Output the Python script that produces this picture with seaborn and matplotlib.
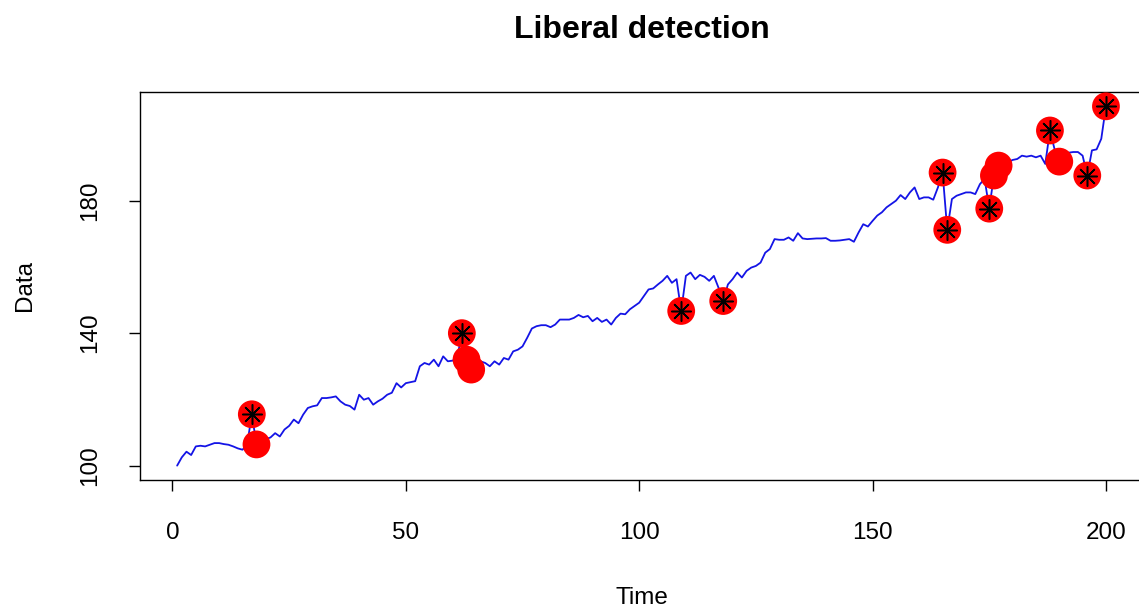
import numpy as np
import pandas as pd
import matplotlib
matplotlib.use("Agg")
import matplotlib.pyplot as plt
import seaborn as sns

# ---- data ----
values = [
    100.0, 102.5, 104.2, 103.2, 105.8, 106.0, 105.8, 106.3, 106.8, 106.8,
    106.5, 106.3, 105.8, 105.2, 104.8, 106.3, 115.5, 106.4, 107.0, 108.0,
    108.5, 109.8, 108.8, 110.9, 112.0, 113.9, 112.8, 115.4, 117.4, 117.9,
    118.2, 120.4, 120.4, 120.6, 120.9, 119.4, 118.4, 118.0, 116.9, 121.4,
    119.9, 120.4, 118.4, 119.4, 120.2, 121.4, 122.0, 124.9, 123.6, 124.9,
    125.2, 125.5, 130.0, 131.0, 130.5, 132.0, 130.0, 133.0, 131.5, 131.7,
    132.5, 140.0, 132.0, 129.0, 130.0, 131.5, 131.0, 130.0, 131.5, 130.5,
    132.5, 132.0, 134.5, 135.0, 136.0, 138.6, 141.4, 142.1, 142.4, 142.4,
    141.8, 142.6, 144.1, 144.1, 144.1, 144.6, 145.5, 144.8, 145.2, 143.6,
    144.6, 143.4, 144.1, 142.6, 144.6, 145.9, 145.7, 147.2, 148.2, 149.2,
    151.2, 153.2, 153.5, 154.7, 155.8, 157.3, 155.2, 156.3, 146.7, 157.3,
    158.3, 156.3, 157.6, 157.0, 155.8, 157.3, 153.7, 149.7, 154.7, 156.3,
    158.3, 156.8, 158.8, 159.8, 160.3, 161.3, 164.3, 165.4, 168.4, 168.2,
    168.2, 168.9, 167.9, 170.2, 168.6, 168.4, 168.5, 168.6, 168.6, 168.7,
    167.9, 167.9, 168.0, 168.2, 168.4, 167.6, 170.4, 172.9, 172.2, 173.9,
    175.5, 176.5, 178.0, 179.0, 180.0, 181.7, 180.5, 182.5, 184.0, 180.5,
    181.0, 181.0, 180.3, 184.0, 188.5, 171.2, 180.5, 181.5, 182.0, 182.5,
    182.5, 182.0, 185.0, 186.6, 177.6, 187.6, 190.6, 191.0, 191.6, 192.3,
    192.6, 193.6, 193.3, 193.6, 193.1, 193.6, 191.1, 201.2, 195.5, 191.8,
    193.5, 194.5, 194.7, 194.7, 193.6, 187.6, 195.2, 195.5, 198.7, 208.5,
]
time = list(range(1, 201))

# detected points (red circles) and those also marked with asterisk
detected_t = [17, 18, 62, 63, 64, 109, 118, 165, 166, 175, 176, 177, 188, 190, 196, 200]
starred_t = [17, 62, 109, 118, 165, 166, 175, 188, 196, 200]

df = pd.DataFrame({"Time": time, "Data": values})
det = df[df["Time"].isin(detected_t)]
star = df[df["Time"].isin(starred_t)]

sns.set_style("white")
plt.rcParams["font.family"] = ["Liberation Sans", "DejaVu Sans"]
plt.rcParams["text.color"] = "black"
plt.rcParams["axes.labelcolor"] = "black"

fig = plt.figure(figsize=(11.39, 6.13), dpi=100)
ax = fig.add_axes([0.1229, 0.217, 0.8807, 0.633])

sns.lineplot(data=df, x="Time", y="Data", color="#1414E6", linewidth=1.3, ax=ax)
sns.scatterplot(data=det, x="Time", y="Data", color="#FF0000", s=400,
                edgecolor="none", linewidth=0, ax=ax, zorder=3)
sns.scatterplot(data=star, x="Time", y="Data", color="black", marker=(8, 2, 0),
                s=200, linewidth=1.1, ax=ax, zorder=4)

xr = (1, 200)
yr = (min(values), max(values))
dx = (xr[1] - xr[0]) * 0.04
dy = (yr[1] - yr[0]) * 0.04
ax.set_xlim(xr[0] - dx, xr[1] + dx)
ax.set_ylim(yr[0] - dy, yr[1] + dy)

ax.set_xticks([0, 50, 100, 150, 200])
ax.set_yticks([100, 140, 180])
ax.tick_params(axis="both", direction="out", length=8, width=1, labelsize=17.5,
               color="black", labelcolor="black", bottom=True, left=True)
ax.tick_params(axis="x", pad=22)
ax.tick_params(axis="y", pad=20)
for lab in ax.get_yticklabels():
    lab.set_rotation(90)
    lab.set_va("center")

for sp in ax.spines.values():
    sp.set_visible(True)
    sp.set_color("black")
    sp.set_linewidth(1)

ax.set_xlabel("Time", fontsize=17.5, labelpad=31)
ax.set_ylabel("Data", fontsize=17.5, labelpad=31)
ax.set_title("Liberal detection", fontsize=23, fontweight="bold", pad=39)

fig.savefig("out.png", dpi=100)
